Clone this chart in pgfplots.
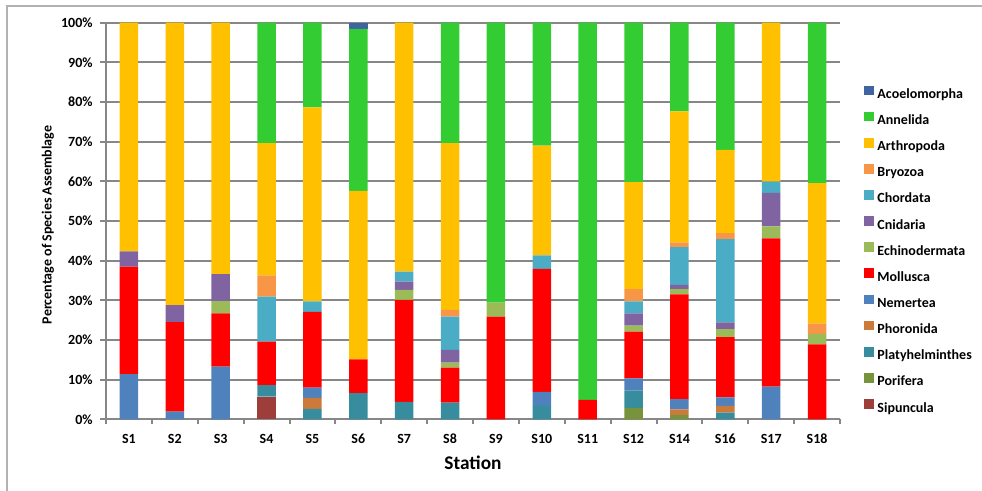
\documentclass[border=0pt]{standalone}
\usepackage{fontspec}
\setmainfont{Carlito}
\usepackage{pgfplots}
\pgfplotsset{compat=1.18}
\usepackage{pgfplotstable}

\definecolor{cAco}{HTML}{3F64A0}
\definecolor{cAnn}{HTML}{33CC33}
\definecolor{cArt}{HTML}{FFC000}
\definecolor{cBry}{HTML}{F79646}
\definecolor{cCho}{HTML}{4BACC6}
\definecolor{cCni}{HTML}{8064A2}
\definecolor{cEch}{HTML}{9BBB59}
\definecolor{cMol}{HTML}{FF0000}
\definecolor{cNem}{HTML}{4F81BD}
\definecolor{cPho}{HTML}{CC7A3A}
\definecolor{cPla}{HTML}{378C9E}
\definecolor{cPor}{HTML}{77933C}
\definecolor{cSip}{HTML}{9E3E3B}
\definecolor{axgray}{HTML}{878787}

% percent of each phylum per station (S1..S12, S14, S16, S17, S18)
\pgfplotstableread{
X  Sip Por Pla Pho Nem  Mol  Ech Cni Cho  Bry Art  Ann  Aco
0  0   0   0   0   11.4 27.1 0   3.8 0    0   57.7 0    0
1  0   0   0   0   1.9  22.6 0   4.3 0    0   71.2 0    0
2  0   0   0   0   13.3 13.4 3.1 6.8 0    0   63.4 0    0
3  5.7 0   2.9 0   0    11.0 0   0   11.3 5.4 33.3 30.4 0
4  0   0   2.6 2.8 2.6  19.1 0   0   2.6  0   48.9 21.4 0
5  0   0   6.6 0   0    8.5  0   0   0    0   42.5 40.8 1.6
6  0   0   4.4 0   0    25.7 2.5 2.1 2.5  0   62.8 0    0
7  0   0   4.2 0   0    8.8  1.3 3.2 8.4  1.7 42.0 30.4 0
8  0   0   0   0   0    25.9 3.5 0   0    0   0    70.6 0
9  0   0   3.4 0   3.5  31.0 0   0   3.4  0   27.7 31.0 0
10 0   0   0   0   0    4.9  0   0   0    0   0    95.1 0
11 0   2.9 4.3 0   3.1  11.8 1.5 3.1 3.0  3.1 27.0 40.2 0
12 0   1.1 0   1.4 2.6  26.4 1.3 1.1 9.5  1.2 33.0 22.4 0
13 0   0   1.7 1.7 2.1  15.2 2.0 1.7 21.0 1.5 21.0 32.1 0
14 0   0   0   0   8.2  37.4 3.0 8.5 2.8  0   40.1 0    0
15 0   0   0   0   0    18.9 2.6 0   0    2.7 35.3 40.5 0
}\stations

\pgfplotsset{sq/.style={legend image code/.code={\fill[##1] (0pt,-0.4pt) rectangle (7.4pt,6.9pt);}}}

\begin{document}
\begin{tikzpicture}[x=0.75pt,y=0.75pt]
\path[use as bounding box] (0,0) rectangle (982,491);
\draw[line width=1.5pt, color=gray!60] (7,0) -- (7,485) -- (982,485);
\begin{axis}[
    at={(79.5pt,53.8pt)}, anchor=south west,
    scale only axis, width=550.5pt, height=297.5pt,
    ybar stacked, bar width=13.8pt,
    xmin=-0.5, xmax=15.5, ymin=0, ymax=100,
    axis x line*=bottom, axis y line*=left,
    axis line style={line width=1.5pt, color=axgray, -},
    xtick={0,...,15},
    xticklabels={S1,S2,S3,S4,S5,S6,S7,S8,S9,S10,S11,S12,S14,S16,S17,S18},
    minor xtick={-0.5,0.5,...,15.5},
    major x tick style={draw=none},
    minor x tick style={line width=1.5pt, color=axgray},
    minor tick length=3.5pt,
    ytick={0,10,...,100},
    yticklabels={0\%,10\%,20\%,30\%,40\%,50\%,60\%,70\%,80\%,90\%,100\%},
    major y tick style={line width=1.5pt, color=axgray},
    major tick length=4.5pt,
    tick align=outside,
    ymajorgrids, grid style={line width=1.5pt, color=axgray},
    ticklabel style={font=\bfseries\fontsize{10.5}{12}\selectfont},
    xticklabel style={yshift=-3.2pt},
    yticklabel style={xshift=-2pt},
    xlabel={Station},
    xlabel style={font=\bfseries\fontsize{14.5}{17}\selectfont, at={(axis description cs:0.5,0)}, anchor=center, yshift=-33pt},
    ylabel={Percentage of Species Assemblage},
    ylabel style={font=\bfseries\fontsize{10.5}{12}\selectfont, at={(axis description cs:0,0.49)}, anchor=center, yshift=43.5pt},
    reverse legend,
    legend cell align=left,
    legend style={at={(axis description cs:1.0327,0.842)}, anchor=north west,
      draw=none, fill=none, inner sep=0pt, row sep=7.45pt, column sep=2.5pt,
      font=\bfseries\fontsize{10.5}{12}\selectfont,
      nodes={inner sep=0pt, text height=8pt, text depth=2.5pt}},
]
\addplot[fill=cSip, draw=none, sq] table[x=X, y=Sip] {\stations};
\addplot[fill=cPor, draw=none, sq] table[x=X, y=Por] {\stations};
\addplot[fill=cPla, draw=none, sq] table[x=X, y=Pla] {\stations};
\addplot[fill=cPho, draw=none, sq] table[x=X, y=Pho] {\stations};
\addplot[fill=cNem, draw=none, sq] table[x=X, y=Nem] {\stations};
\addplot[fill=cMol, draw=none, sq] table[x=X, y=Mol] {\stations};
\addplot[fill=cEch, draw=none, sq] table[x=X, y=Ech] {\stations};
\addplot[fill=cCni, draw=none, sq] table[x=X, y=Cni] {\stations};
\addplot[fill=cCho, draw=none, sq] table[x=X, y=Cho] {\stations};
\addplot[fill=cBry, draw=none, sq] table[x=X, y=Bry] {\stations};
\addplot[fill=cArt, draw=none, sq] table[x=X, y=Art] {\stations};
\addplot[fill=cAnn, draw=none, sq] table[x=X, y=Ann] {\stations};
\addplot[fill=cAco, draw=none, sq] table[x=X, y=Aco] {\stations};
\legend{Sipuncula,Porifera,Platyhelminthes,Phoronida,Nemertea,Mollusca,Echinodermata,Cnidaria,Chordata,Bryozoa,Arthropoda,Annelida,Acoelomorpha}
\end{axis}
\end{tikzpicture}
\end{document}
